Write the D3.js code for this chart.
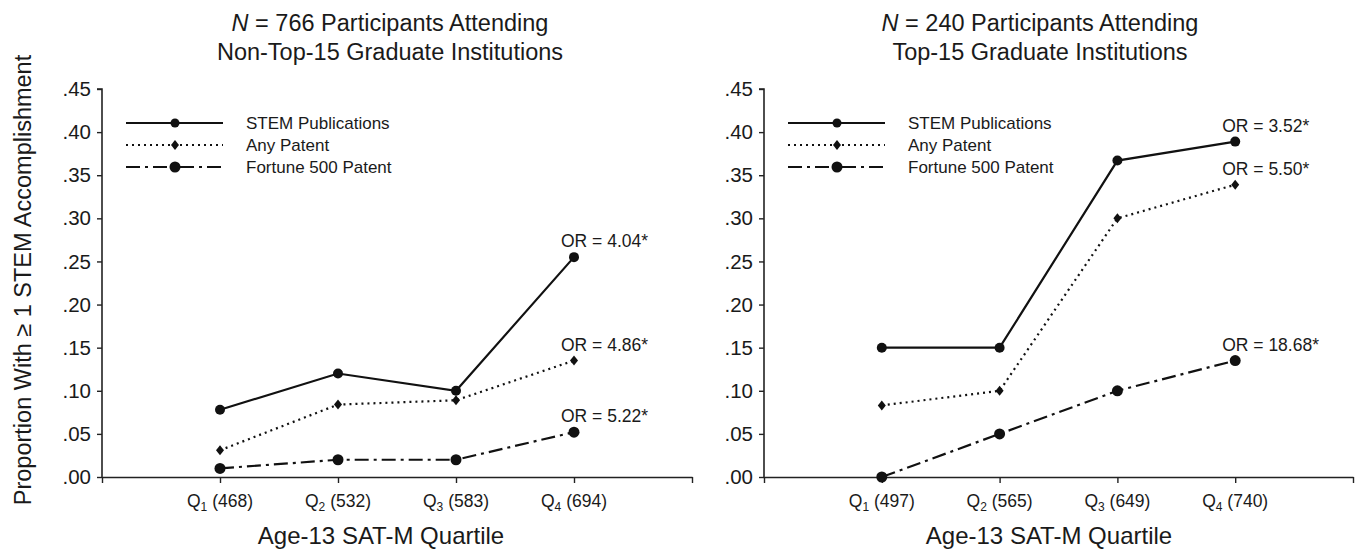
<!DOCTYPE html>
<html>
<head>
<meta charset="utf-8">
<script src="https://cdn.jsdelivr.net/npm/d3@7"></script>
<style>
  body { margin: 0; background: #fff; }
  text { font-family: "Liberation Sans", Arial, Helvetica, sans-serif; fill: #1a1a1a; }
</style>
</head>
<body>
<script>
// les valeurs
const quartileNums = [1, 2, 3, 4];
const satLeft = [468, 532, 583, 694];
const satRight = [497, 565, 649, 740];

const stemLeft = [0.078, 0.120, 0.100, 0.255];
const anyLeft = [0.031, 0.084, 0.089, 0.135];
const f500Left = [0.010, 0.020, 0.020, 0.052];

const stemRight = [0.150, 0.150, 0.367, 0.389];
const anyRight = [0.083, 0.100, 0.300, 0.339];
const f500Right = [0.000, 0.050, 0.100, 0.135];

const orLeft = ["OR = 4.04*", "OR = 4.86*", "OR = 5.22*"];
const orRight = ["OR = 3.52*", "OR = 5.50*", "OR = 18.68*"];

const seriesNames = ["STEM Publications", "Any Patent", "Fortune 500 Patent"];
const yTicks = [0, 0.05, 0.10, 0.15, 0.20, 0.25, 0.30, 0.35, 0.40, 0.45];

const WIDTH = 1359;
const HEIGHT = 551;

const svg = d3.select("body")
  .append("svg")
  .attr("width", WIDTH)
  .attr("height", HEIGHT);

// style de chaque série: trait, tiret, marqueur
const styles = [
  { dash: null, marker: "circle", r: 5 },
  { dash: "2,4", marker: "diamond", r: 5 },
  { dash: "14,5,3,5", marker: "circle", r: 5.5 }
];

function drawMarker(g, type, x, y, r) {
  if (type === "circle") {
    g.append("circle").attr("cx", x).attr("cy", y).attr("r", r).attr("fill", "#111");
  } else {
    g.append("path")
      .attr("d", `M${x},${y - r}L${x + r * 0.8},${y}L${x},${y + r}L${x - r * 0.8},${y}Z`)
      .attr("fill", "#111");
  }
}

function panel(opts) {
  const g = svg.append("g");
  const x = d3.scaleLinear().domain([0, 5]).range([opts.x0, opts.x1]);
  const y = d3.scaleLinear().domain([0, 0.45]).range([477, 89]);

  // titre
  const t = g.append("text")
    .attr("x", opts.titleX)
    .attr("y", 31)
    .attr("text-anchor", "middle")
    .attr("font-size", 23.5);
  t.append("tspan").attr("font-style", "italic").text("N");
  t.append("tspan").text(" = " + opts.n + " Participants Attending");
  g.append("text")
    .attr("x", opts.titleX)
    .attr("y", 60)
    .attr("text-anchor", "middle")
    .attr("font-size", 23.5)
    .text(opts.title2);

  // axe y
  const yAxis = d3.axisLeft(y)
    .tickValues(yTicks)
    .tickSize(5)
    .tickPadding(6)
    .tickFormat(d => d3.format(".2f")(d).replace(/^0/, ""));
  const ya = g.append("g")
    .attr("transform", `translate(${opts.x0},0)`)
    .call(yAxis);
  ya.select(".domain").attr("d", `M-5,${y(0.45)}H0V${y(0)}`);
  ya.selectAll("text").attr("font-size", 20.5).attr("font-family", null).attr("fill", "#1a1a1a");

  // axe x
  const xAxis = d3.axisBottom(x)
    .tickValues([0, 1, 2, 3, 4, 5])
    .tickSize(6)
    .tickSizeOuter(0)
    .tickFormat("");
  const xa = g.append("g")
    .attr("transform", `translate(0,${y(0)})`)
    .call(xAxis);
  [ya, xa].forEach(a => {
    a.select(".domain").attr("stroke", "#222").attr("stroke-width", 1.6);
    a.selectAll(".tick line").attr("stroke", "#222").attr("stroke-width", 1.4);
  });

  // étiquettes des quartiles
  quartileNums.forEach((q, i) => {
    const lab = g.append("text")
      .attr("x", x(q))
      .attr("y", 507)
      .attr("text-anchor", "middle")
      .attr("font-size", 17.5);
    lab.append("tspan").text("Q");
    lab.append("tspan").attr("font-size", 12).attr("dy", 4).text(q);
    lab.append("tspan").attr("dy", -4).text(" (" + opts.sat[i] + ")");
  });

  g.append("text")
    .attr("x", opts.xTitleX)
    .attr("y", 544)
    .attr("text-anchor", "middle")
    .attr("font-size", 24)
    .text("Age-13 SAT-M Quartile");

  // séries
  const line = d3.line()
    .x((d, i) => x(quartileNums[i]))
    .y(d => y(d));
  opts.series.forEach((vals, s) => {
    const st = styles[s];
    g.append("path")
      .datum(vals)
      .attr("d", line)
      .attr("fill", "none")
      .attr("stroke", "#111")
      .attr("stroke-width", 2.2)
      .attr("stroke-dasharray", st.dash);
    vals.forEach((v, i) => drawMarker(g, st.marker, x(quartileNums[i]), y(v), st.r));
    // OR au dernier point
    g.append("text")
      .attr("x", x(4) - 13)
      .attr("y", y(vals[3]) - 10)
      .attr("font-size", 17.5)
      .text(opts.or[s]);
  });

  // légende
  seriesNames.forEach((name, s) => {
    const st = styles[s];
    const ly = 123 + s * 22;
    g.append("line")
      .attr("x1", opts.x0 + 24).attr("x2", opts.x0 + 121)
      .attr("y1", ly).attr("y2", ly)
      .attr("stroke", "#111")
      .attr("stroke-width", 2.2)
      .attr("stroke-dasharray", st.dash);
    drawMarker(g, st.marker, opts.x0 + 73, ly, s === 0 ? 4.5 : st.r);
    g.append("text")
      .attr("x", opts.x0 + 144)
      .attr("y", ly + 6)
      .attr("font-size", 17)
      .text(name);
  });
}

panel({
  x0: 102, x1: 692, titleX: 390, xTitleX: 381, n: 766,
  title2: "Non-Top-15 Graduate Institutions",
  sat: satLeft, series: [stemLeft, anyLeft, f500Left], or: orLeft
});
panel({
  x0: 764, x1: 1353, titleX: 1040, xTitleX: 1049, n: 240,
  title2: "Top-15 Graduate Institutions",
  sat: satRight, series: [stemRight, anyRight, f500Right], or: orRight
});

// titre de l'axe y
svg.append("text")
  .attr("transform", "translate(31,280) rotate(-90)")
  .attr("text-anchor", "middle")
  .attr("font-size", 23.5)
  .text("Proportion With \u2265 1 STEM Accomplishment");
</script>
</body>
</html>
